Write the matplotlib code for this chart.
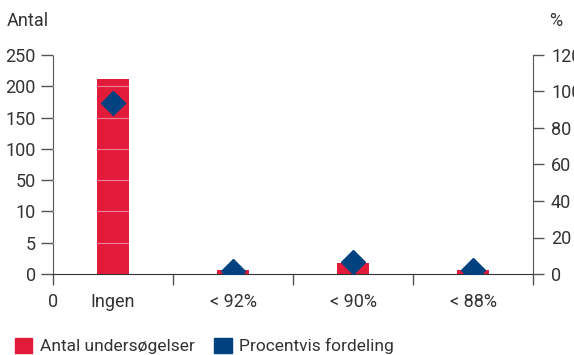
import numpy as np
import matplotlib
matplotlib.use("Agg")
import matplotlib.pyplot as plt
from matplotlib.patches import Patch

plt.rcParams['font.family'] = ['Roboto', 'DejaVu Sans']

# data
categories = ["Ingen", "< 92%", "< 90%", "< 88%"]
antal = [211, 0.65, 1.8, 0.65]          # on the broken left axis
procent = [93.9, 1.8, 6.6, 2.0]
left_ticks = [0, 5, 10, 50, 100, 150, 200, 250]
right_ticks = [0, 20, 40, 60, 80, 100, 120]

red = "#E31B3A"
blue = "#00427F"
axcol = "#555555"
txtcol = "#333333"

# piecewise scale so the uneven ticks sit evenly spaced
steps = np.arange(len(left_ticks))
def fwd(v):
    return np.interp(v, left_ticks, steps)
def inv(v):
    return np.interp(v, steps, left_ticks)

fig = plt.figure(figsize=(5.74, 3.55), dpi=100)
ax = fig.add_axes([53 / 574, 81 / 355, 480 / 574, 219 / 355])
x = np.arange(len(categories))

ax.set_yscale('function', functions=(fwd, inv))
ax.bar(x, antal, width=0.26, color=red, zorder=2)
for t in left_ticks[1:]:
    ax.axhline(t, color="white", lw=0.8, alpha=0.45, zorder=3)
ax.set_ylim(0, 250)
ax.set_xlim(-0.5, len(categories) - 0.5)
ax.set_yticks(left_ticks)
ax.set_yticklabels([str(t) for t in left_ticks])

# category boundaries get tick marks, labels go in the middle
ax.set_xticks(np.arange(-0.5, len(categories)), ["0", "", "", "", ""])
ax.set_xticks(x, categories, minor=True)
ax.tick_params(axis='x', which='minor', length=0, pad=13.5)
ax.tick_params(axis='x', which='major', length=8, pad=5.5)
ax.tick_params(axis='both', colors=axcol, labelcolor=txtcol, labelsize=13, width=1)
ax.tick_params(axis='x', which='minor', labelsize=13, labelcolor=txtcol)
ax.tick_params(axis='y', length=8.5, pad=4)

for side in ["top", "right"]:
    ax.spines[side].set_visible(False)
ax.spines["left"].set_color(axcol)
ax.spines["bottom"].set_color("#333333")

ax2 = ax.twinx()
ax2.plot(x, procent, linestyle='none', marker='D', markersize=12.5, color=blue, zorder=4)
ax2.set_ylim(0, 120)
ax2.set_yticks(right_ticks)
ax2.tick_params(axis='y', colors=axcol, labelcolor=txtcol, labelsize=13, length=8, pad=5, width=1)
for side in ["top", "left", "bottom"]:
    ax2.spines[side].set_visible(False)
ax2.spines["right"].set_color(axcol)

fig.text(7 / 574, 1 - 21 / 355, "Antal", fontsize=13, color=txtcol, va='center', ha='left')
fig.text(549 / 574, 1 - 21 / 355, "%", fontsize=13, color=txtcol, va='center', ha='left')

handles = [Patch(color=red, label="Antal undersøgelser"),
           Patch(color=blue, label="Procentvis fordeling")]
fig.legend(handles=handles, loc='center left', bbox_to_anchor=(15 / 574, 9 / 355), ncol=2,
           frameon=False, fontsize=12.5, handlelength=1.0, handleheight=1.0, borderpad=0,
           borderaxespad=0, handletextpad=0.45, columnspacing=1.1, labelcolor=txtcol)

fig.savefig("out.png", dpi=100)
